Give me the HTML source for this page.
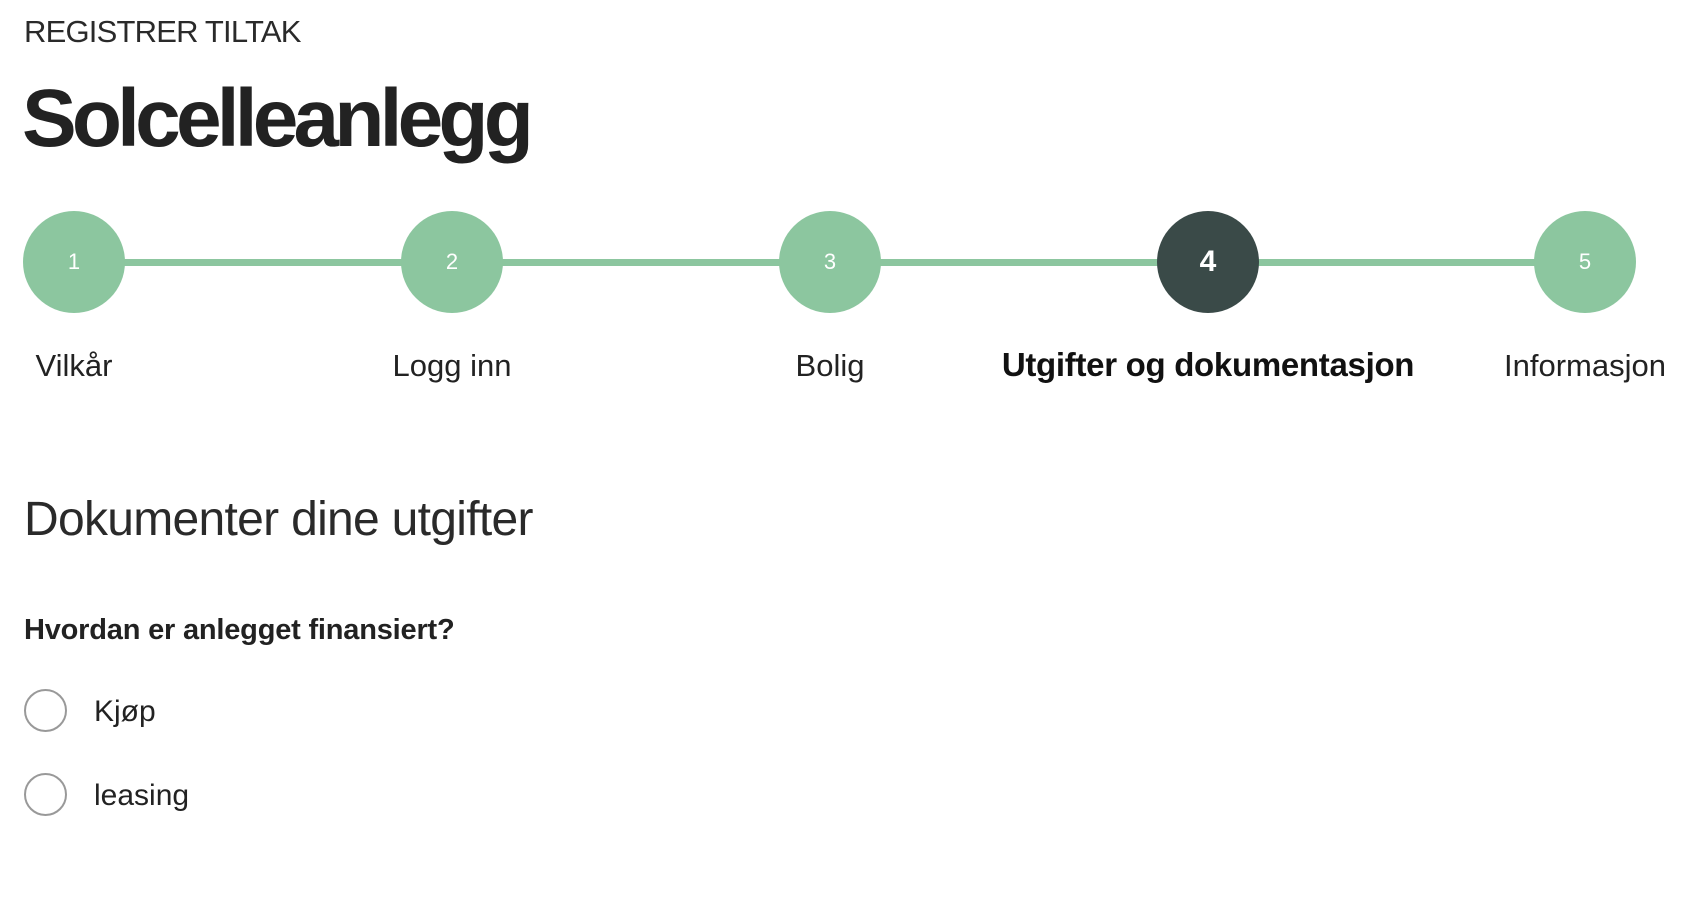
<!DOCTYPE html>
<html><head><meta charset="utf-8"><style>
html,body{margin:0;padding:0;background:#fff;width:1684px;height:916px;overflow:hidden;font-family:"Liberation Sans",sans-serif;color:#222}
.a{position:absolute;white-space:nowrap}
.c{position:absolute;width:102px;height:102px;border-radius:50%;background:#8cc69f;color:#fff;font-size:22px;display:flex;align-items:center;justify-content:center;top:211px}
.lbl{position:absolute;top:348px;font-size:31px;width:600px;text-align:center;color:#222;white-space:nowrap}
.r{position:absolute;left:24px;width:39px;height:39px;border:2px solid #999;border-radius:50%}
</style></head><body>
<div class="a" style="left:24px;top:14px;font-size:31px;letter-spacing:-0.8px;color:#2a2a2a">REGISTRER TILTAK</div>
<div class="a" style="left:22px;top:72px;font-size:82px;font-weight:bold;letter-spacing:-4.8px;color:#222">Solcelleanlegg</div>
<div class="a" style="left:74px;top:259px;width:1520px;height:7px;background:#8cc69f"></div>
<div class="c" style="left:23px">1</div>
<div class="c" style="left:401px">2</div>
<div class="c" style="left:779px">3</div>
<div class="c" style="left:1157px;background:#3a4a48;font-size:30px;font-weight:bold">4</div>
<div class="c" style="left:1534px">5</div>
<div class="lbl" style="left:-226px">Vilkår</div>
<div class="lbl" style="left:152px">Logg inn</div>
<div class="lbl" style="left:530px">Bolig</div>
<div class="lbl" style="left:908px;font-weight:bold;font-size:33px;letter-spacing:-0.3px;color:#111;top:346px">Utgifter og dokumentasjon</div>
<div class="lbl" style="left:1285px">Informasjon</div>
<div class="a" style="left:24px;top:492px;font-size:48px;letter-spacing:-0.7px;color:#2a2a2a">Dokumenter dine utgifter</div>
<div class="a" style="left:24px;top:614px;font-size:29px;font-weight:bold;letter-spacing:-0.2px;color:#222">Hvordan er anlegget finansiert?</div>
<div class="r" style="top:689px"></div>
<div class="a" style="left:94px;top:695px;font-size:30px">Kjøp</div>
<div class="r" style="top:773px"></div>
<div class="a" style="left:94px;top:779px;font-size:30px">leasing</div>
</body></html>
